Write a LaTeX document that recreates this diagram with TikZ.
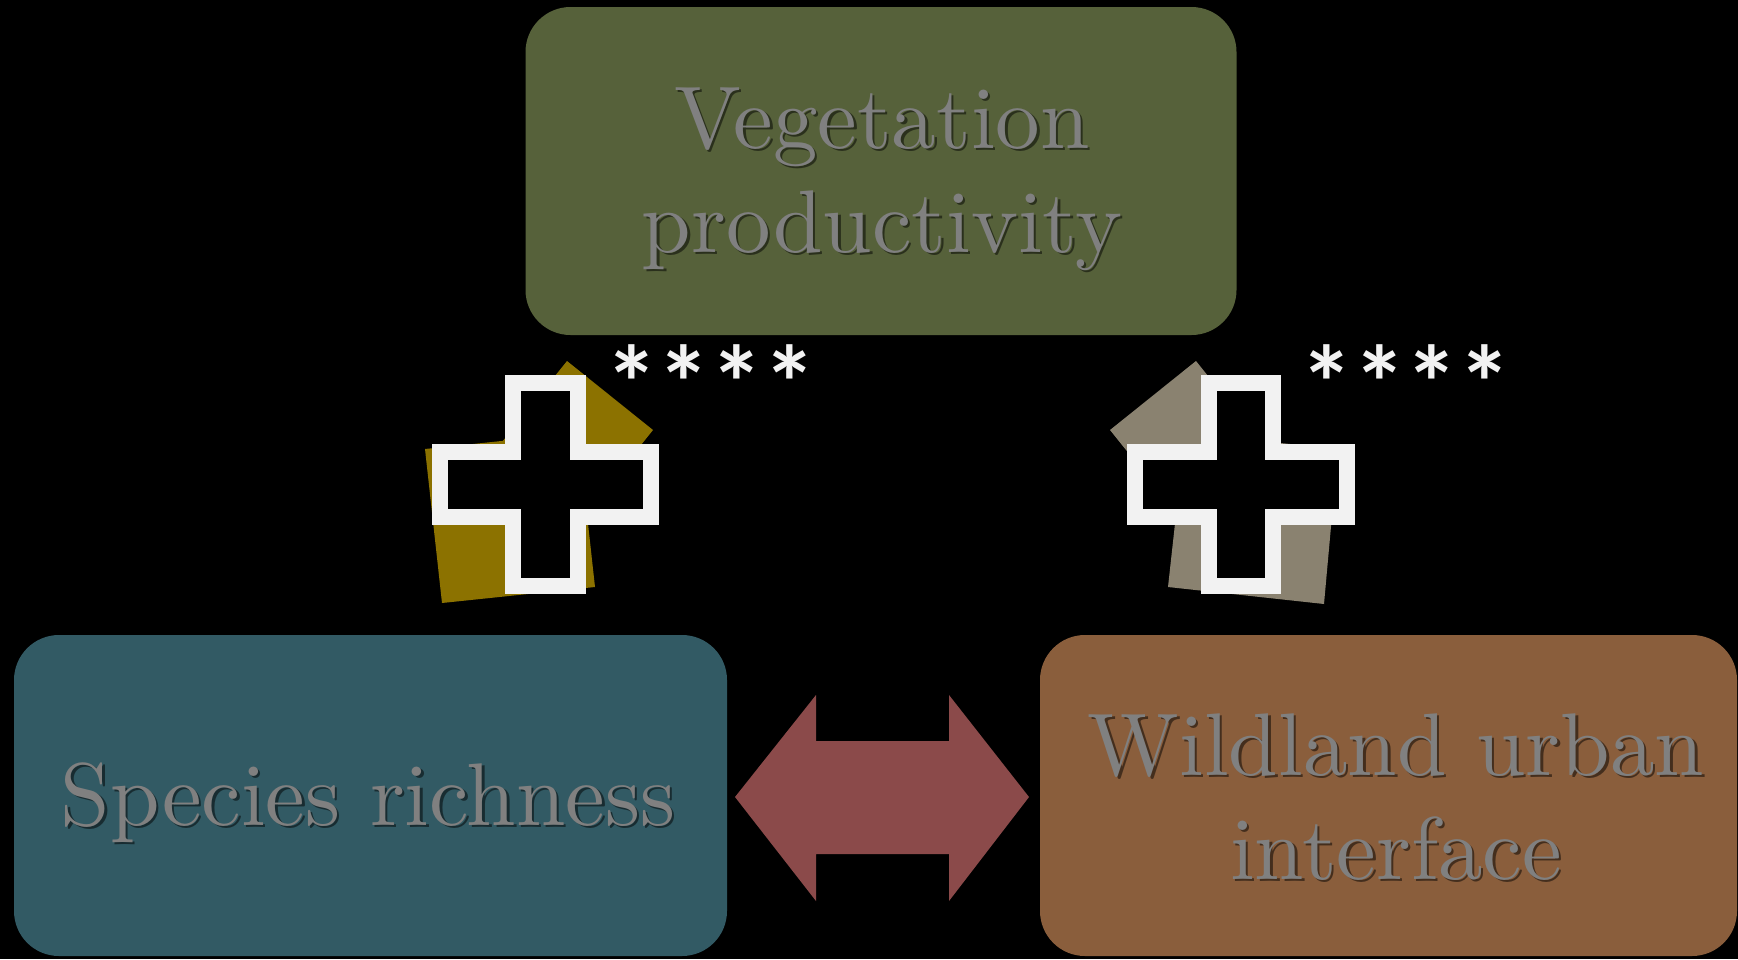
\documentclass[tikz,border=0pt]{standalone}
\usepackage{fontspec}
\newfontfamily\starfont{Carlito}
\newfontfamily\lblfont{lmroman10-regular.otf}
\usetikzlibrary{calc}
\definecolor{vegcol}{HTML}{56613A}
\definecolor{spcol}{HTML}{325A64}
\definecolor{wuicol}{HTML}{8A5E3C}
\definecolor{arrowcol}{HTML}{8B4A4A}
\definecolor{leftcol}{HTML}{8C7200}
\definecolor{rightcol}{HTML}{8A8270}
\definecolor{labelgray}{HTML}{808080}
\definecolor{plusw}{HTML}{F2F2F2}
\begin{document}
\begin{tikzpicture}[x=1pt,y=-1pt,
  box/.style={rounded corners=45pt, inner sep=0pt, draw=none},
  lbl/.style={text=labelgray, font=\lblfont\fontsize{89}{104}\selectfont, align=center, text width=740pt, anchor=base, inner sep=0pt},
  shadowlbl/.style={lbl, text=black, text opacity=0.5},
  stars/.style={text=plusw, font=\starfont\bfseries\fontsize{106}{110}\selectfont, inner sep=0pt, anchor=base west},
  plussign/.style={fill=black, draw=plusw, line width=16pt, miter limit=10}]
\useasboundingbox (0,0) rectangle (1738,959);
\fill[black] (0,0) rectangle (1738,959);

% boxes
\node[box, fill=vegcol, minimum width=711pt, minimum height=328pt] (veg) at (881,171) {};
\node[box, fill=spcol, minimum width=713pt, minimum height=321pt] (sp) at (370.5,795.5) {};
\node[box, fill=wuicol, minimum width=697pt, minimum height=321pt] (wui) at (1388.5,795.5) {};

% labels
\node[shadowlbl] (vegs) at (884.5,150.5) {Vegetation\\productivity};
\node[lbl] (vegt) at (882,148) {Vegetation\\productivity};
\node[shadowlbl] (sps) at (370.5,827.5) {Species richness};
\node[lbl] (spt) at (368,825) {Species richness};
\node[shadowlbl] (wuis) at (1398.5,777.5) {Wildland urban\\interface};
\node[lbl] (wuit) at (1396,775) {Wildland urban\\interface};

% double arrow between species richness and WUI
\coordinate (aL) at (735,797);
\coordinate (aR) at (1029,797);
\fill[arrowcol] (aL) -- ($(aL)+(81,-102)$) -- ($(aL)+(81,-56)$) -- ($(aR)+(-80,-56)$)
  -- ($(aR)+(-80,-102)$) -- (aR) -- ($(aR)+(-80,104)$) -- ($(aR)+(-80,57)$)
  -- ($(aL)+(81,57)$) -- ($(aL)+(81,104)$) -- cycle;

% left arrow shape (species -> vegetation)
\fill[leftcol] (425,449) -- (442,603) -- (595,587) -- (578,433) -- cycle;
\fill[leftcol] (567,361) -- (653,430) -- (584,516) -- (498,447) -- cycle;
% right arrow shape (WUI -> vegetation)
\fill[rightcol] (1338,449) -- (1324,604) -- (1168,587) -- (1185,433) -- cycle;
\fill[rightcol] (1196,361) -- (1110,430) -- (1179,516) -- (1265,447) -- cycle;

% plus signs
\draw[plussign] (513,383) -- (578,383) -- (578,452) -- (651,452) -- (651,517) -- (578,517)
  -- (578,586) -- (513,586) -- (513,517) -- (440,517) -- (440,452) -- (513,452) -- cycle;
\draw[plussign] (1209,383) -- (1273,383) -- (1273,452) -- (1347,452) -- (1347,517) -- (1273,517)
  -- (1273,586) -- (1209,586) -- (1209,517) -- (1135,517) -- (1135,452) -- (1209,452) -- cycle;

% significance stars
\node[stars] (starsL) at (605,420) {****};
\node[stars] (starsR) at (1300,420) {****};
\end{tikzpicture}
\end{document}
